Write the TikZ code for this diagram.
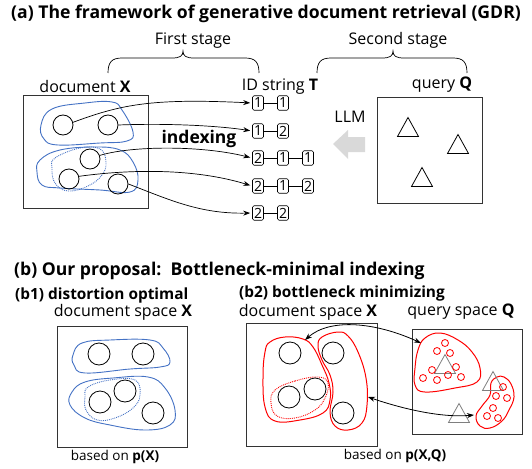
\documentclass[tikz,border=0pt]{standalone}
\usepackage{fontspec}
\setmainfont{Open Sans}
\usetikzlibrary{arrows.meta}
\definecolor{myblue}{HTML}{4472C4}
\definecolor{llmgray}{HTML}{D9D9D9}
\definecolor{trigray}{HTML}{7F7F7F}
\begin{document}
\begin{tikzpicture}[x=1pt,y=-1pt,
  titletext/.style={font=\bfseries\fontsize{17.6}{20}\selectfont, anchor=west, inner sep=0pt},
  subtitle/.style={font=\bfseries\fontsize{15.4}{17}\selectfont, anchor=west, inner sep=0pt},
  lbl/.style={font=\fontsize{16}{18}\selectfont, inner sep=0pt},
  basedlbl/.style={font=\fontsize{13.5}{15}\selectfont, inner sep=0pt},
  panel/.style={draw=black!80, line width=0.8pt},
  doc/.style={circle, draw, line width=0.8pt, minimum size=20pt, inner sep=0pt},
  docb/.style={doc, minimum size=22pt},
  idbox/.style={draw, rounded corners=1.5pt, minimum width=11pt, minimum height=14.5pt, inner sep=0pt, font=\fontsize{14}{14}\selectfont, line width=0.6pt},
  idlink/.style={line width=0.6pt},
  arr/.style={-{Stealth[length=7pt,width=5pt]}, line width=0.7pt},
  darr/.style={{Stealth[length=7pt,width=5pt]}-{Stealth[length=7pt,width=5pt]}, line width=0.8pt},
  bblob/.style={draw=myblue, line width=0.9pt},
  bdot/.style={draw=myblue, line width=0.9pt, densely dotted},
  rblob/.style={draw=red, line width=1pt},
  rdotted/.style={draw=red, line width=0.9pt, densely dotted},
  rdot/.style={circle, draw=red, line width=0.8pt, minimum size=7pt, inner sep=0pt},
  bracepath/.style={line width=0.7pt},
  tripic/.pic={\draw[line width=0.8pt] (-10.5,9.5) -- (0,-9.5) -- (10.5,9.5) -- cycle;},
]
\useasboundingbox (0,0) rectangle (532,468);

% ---------- (a) ----------
\node[titletext] (ta) at (11,14) {(a) The framework of generative document retrieval (GDR)};
\node[lbl] (first) at (193,41) {First stage};
\node[lbl] (second) at (398,40) {Second stage};
\draw[bracepath] (108,73) .. controls (108,62) and (112,58) .. (122,58) -- (172,58) .. controls (180,58) and (183,56) .. (183,51)
  .. controls (183,56) and (186,58) .. (194,58) -- (245,58) .. controls (255,58) and (259,62) .. (259,73);
\draw[bracepath] (317,73) .. controls (317,62) and (321,58) .. (331,58) -- (382,58) .. controls (390,58) and (393,56) .. (393,51)
  .. controls (393,56) and (396,58) .. (404,58) -- (453,58) .. controls (463,58) and (467,62) .. (467,73);

\node[lbl] (docx) at (85,87) {document \textbf{X}};
\node[lbl] (idt) at (280,87) {ID string \textbf{T}};
\node[lbl] (qq) at (442,85) {query \textbf{Q}};
\node[lbl] (llm) at (350,117) {LLM};

\draw[panel] (23,95) rectangle (148,208);
\draw[panel] (377,97) rectangle (482,203);

\draw[bblob] plot[smooth cycle, tension=0.7] coordinates {(41,125) (52,109) (85,103) (112,102) (122,110) (133,132) (127,141) (100,143) (58,145) (44,139)};
\draw[bblob] plot[smooth cycle, tension=0.7] coordinates {(40,160) (60,150) (95,147) (120,150) (133,162) (138,180) (130,192) (100,190) (60,188) (42,185) (37,172)};
\draw[bdot] plot[smooth cycle, tension=0.7] coordinates {(55,158) (80,148) (100,149) (106,162) (102,175) (88,186) (68,191) (55,183) (52,168)};

\node[doc] (c1) at (63,125) {};
\node[doc] (c2) at (108,125) {};
\node[doc] (c3) at (90,159) {};
\node[doc] (c4) at (69,179) {};
\node[doc] (c5) at (118,184) {};

\node[idbox] (r1a) at (258,103) {1}; \node[idbox] (r1b) at (283,103) {1};
\node[idbox] (r2a) at (258,131) {1}; \node[idbox] (r2b) at (283,131) {2};
\node[idbox] (r3a) at (258,158) {2}; \node[idbox] (r3b) at (283,158) {1}; \node[idbox] (r3c) at (308,158) {1};
\node[idbox] (r4a) at (258,186) {2}; \node[idbox] (r4b) at (283,186) {1}; \node[idbox] (r4c) at (308,186) {2};
\node[idbox] (r5a) at (258,213) {2}; \node[idbox] (r5b) at (283,213) {2};
\draw[idlink] (r1a) -- (r1b);
\draw[idlink] (r2a) -- (r2b);
\draw[idlink] (r3a) -- (r3b) (r3b) -- (r3c);
\draw[idlink] (r4a) -- (r4b) (r4b) -- (r4c);
\draw[idlink] (r5a) -- (r5b);

\draw[arr, shorten >=2pt] (c1.15) .. controls (120,105) and (150,98) .. (r1a.west);
\draw[arr, shorten >=2pt] (c2.east) .. controls (170,123) and (220,126) .. (r2a.west);
\draw[arr, shorten >=2pt] (c3.20) .. controls (130,146) and (200,145) .. (r3a.west);
\draw[arr, shorten >=2pt] (c4.15) .. controls (140,168) and (200,170) .. (r4a.west);
\draw[arr, shorten >=2pt] (c5.east) .. controls (170,200) and (200,214) .. (r5a.west);

\node[font=\bfseries\fontsize{17.5}{20}\selectfont, inner sep=0pt] (idx) at (199,139) {indexing};

\fill[llmgray] (333,144) -- (348,130) -- (348,137) -- (365,137) -- (365,152) -- (348,152) -- (348,159) -- cycle;

\pic at (408,127) {tripic};
\pic at (458,144) {tripic};
\pic at (422,177) {tripic};

% ---------- (b) ----------
\node[titletext] (tb) at (14,271) {(b) Our proposal:\ \ Bottleneck-minimal indexing};
\node[subtitle] (tb1) at (15,295) {(b1) distortion optimal};
\node[subtitle] (tb2) at (239,293) {(b2) bottleneck minimizing};
\node[lbl] (dsx1) at (123,312) {document space \textbf{X}};
\node[lbl] (dsx2) at (308,312) {document space \textbf{X}};
\node[lbl] (qsq) at (461,312) {query space \textbf{Q}};
\node[basedlbl] (bp1) at (115,457) {based on \textbf{p(X)}};
\node[basedlbl] (bp2) at (395,456) {based on \textbf{p(X,Q)}};

\draw[panel] (57,326) rectangle (187,447);
\draw[panel] (246,323) rectangle (377,446);
\draw[panel] (412,329) rectangle (522,434);

% b1
\draw[bblob] plot[smooth cycle, tension=0.7] coordinates {(73,355) (82,343) (110,340) (150,340) (163,348) (170,362) (160,367) (130,369) (85,373) (74,365)};
\draw[bblob] plot[smooth cycle, tension=0.7] coordinates {(72,392) (85,382) (113,378) (148,377) (165,388) (175,410) (170,425) (145,430) (110,425) (85,418) (70,405)};
\draw[bdot] plot[smooth cycle, tension=0.7] coordinates {(88,387) (110,380) (135,380) (140,395) (133,408) (115,418) (97,420) (86,410) (85,397)};
\node[docb] (d1) at (99,354) {};
\node[docb] (d2) at (143,354) {};
\node[docb] (d3) at (125,391) {};
\node[docb] (d4) at (100,402) {};
\node[docb] (d5) at (153,413) {};

% b2 document space
\draw[rblob] plot[smooth cycle, tension=0.7] coordinates {(270,342) (285,337) (303,339) (313,347) (322,365) (329,383) (330,400) (323,413) (300,420) (275,421) (265,407) (263,377) (265,352)};
\draw[rblob] plot[smooth cycle, tension=0.7] coordinates {(338,332) (322,337) (318,346) (322,360) (330,375) (333,392) (330,412) (335,426) (348,430) (362,423) (367,405) (366,378) (358,352) (348,336)};
\draw[rdotted] plot[smooth cycle, tension=0.7] coordinates {(275,390) (295,381) (318,377) (328,383) (325,398) (315,410) (295,418) (277,416) (271,403)};
\node[docb] (e1) at (290,353) {};
\node[docb] (e2) at (333,353) {};
\node[docb] (e3) at (315,389) {};
\node[docb] (e4) at (289,397) {};
\node[docb] (e5) at (343,413) {};

% b2 query space
\draw[rblob] plot[smooth cycle, tension=0.7] coordinates {(418,350) (425,338) (440,333) (458,340) (472,352) (480,368) (477,382) (455,388) (425,392) (415,385) (415,368)};
\draw[rblob] plot[smooth cycle, tension=0.7] coordinates {(497,377) (491,383) (490,395) (482,406) (476,416) (480,426) (490,428) (502,421) (509,410) (514,397) (511,384) (504,377)};
\pic[color=trigray] at (445,364) {tripic};
\pic[color=trigray] at (493,381) {tripic};
\pic[color=trigray] at (459,413) {tripic};
\foreach \px/\py [count=\i] in {445/343, 437/351, 450/353, 456/367, 432/370, 448/375, 423/378, 437/380, 461/377}
  \node[rdot] (qa\i) at (\px,\py) {};
\foreach \px/\py [count=\i] in {503/387, 496/396, 507/398, 493/408, 487/416, 498/418}
  \node[rdot] (qb\i) at (\px,\py) {};

\coordinate (la) at (305,340);
\coordinate (qa) at (421,343);
\coordinate (lb) at (368,397);
\coordinate (qb) at (474,415);
\draw[darr] (la) .. controls (330,318) and (375,322) .. (qa);
\draw[darr] (lb) .. controls (400,408) and (440,418) .. (qb);
\end{tikzpicture}
\end{document}
